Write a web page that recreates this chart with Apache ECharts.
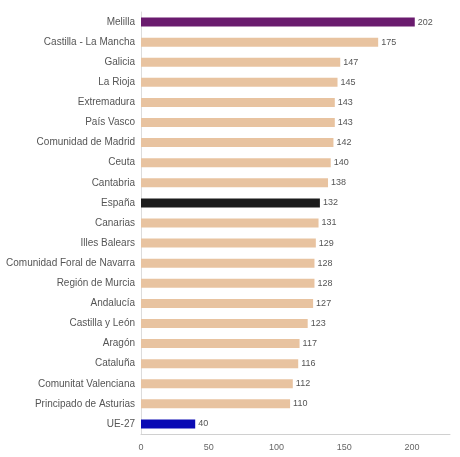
<!DOCTYPE html>
<html>
<head>
<meta charset="utf-8">
<script src="https://cdn.jsdelivr.net/npm/echarts@6/dist/echarts.min.js"></script>
<style>
  html, body { margin: 0; padding: 0; background: #ffffff; }
  #chart { width: 460px; height: 457px; }
</style>
</head>
<body>
<div id="chart"></div>
<script>
// Regions, ordered from highest to lowest value (top to bottom)
const regions = [
  'Melilla', 'Castilla - La Mancha', 'Galicia', 'La Rioja', 'Extremadura',
  'País Vasco', 'Comunidad de Madrid', 'Ceuta', 'Cantabria', 'España',
  'Canarias', 'Illes Balears', 'Comunidad Foral de Navarra', 'Región de Murcia',
  'Andalucía', 'Castilla y León', 'Aragón', 'Cataluña', 'Comunitat Valenciana',
  'Principado de Asturias', 'UE-27'
];
const values = [
  202, 175, 147, 145, 143,
  143, 142, 140, 138, 132,
  131, 129, 128, 128, 127,
  123, 117, 116, 112, 110,
  40
];
const xTicks = [0, 50, 100, 150, 200];
const xAxisEnd = 228;

// Highlighted entries
const highlight = { 'Melilla': '#6a1b6e', 'España': '#1c1c1c', 'UE-27': '#0a0ab4' };
const baseColor = '#e8c3a0';

const chart = echarts.init(document.getElementById('chart'), null, { renderer: 'canvas' });

const cats = regions.slice().reverse();
const vals = values.slice().reverse();

chart.setOption({
  animation: false,
  backgroundColor: '#ffffff',
  grid: { left: 141, right: 10, top: 12, bottom: 23, containLabel: false },
  xAxis: {
    type: 'value',
    min: xTicks[0],
    max: xAxisEnd,
    interval: xTicks[1] - xTicks[0],
    axisLine: { show: true, lineStyle: { color: '#d0d0d0', width: 1 } },
    axisTick: { show: false },
    splitLine: { show: false },
    axisLabel: {
      color: '#666', fontSize: 9, fontFamily: 'Liberation Sans', margin: 9,
      showMaxLabel: false
    }
  },
  yAxis: {
    type: 'category',
    data: cats,
    axisLine: { show: true, lineStyle: { color: '#dcdcdc' } },
    axisTick: { show: false },
    axisLabel: { color: '#555', fontSize: 10, fontFamily: 'Liberation Sans', margin: 6 }
  },
  series: [{
    type: 'bar',
    barWidth: 9,
    data: cats.map((c, i) => ({
      value: vals[i],
      itemStyle: { color: highlight[c] || baseColor }
    })),
    label: {
      show: true,
      position: 'right',
      distance: 3,
      color: '#555',
      fontSize: 9,
      fontFamily: 'Liberation Sans'
    }
  }]
});
</script>
</body>
</html>
